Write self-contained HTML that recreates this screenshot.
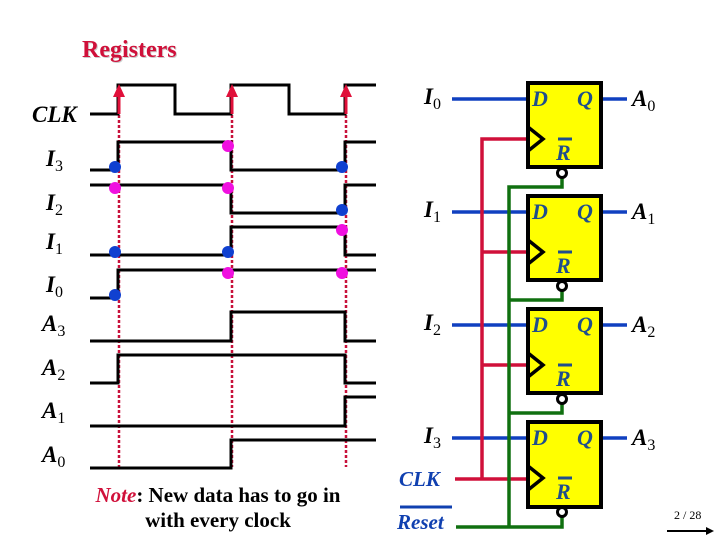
<!DOCTYPE html>
<html><head><style>body{margin:0;background:#fff}svg{display:block}</style></head><body>
<svg width="720" height="540" viewBox="0 0 720 540" xmlns="http://www.w3.org/2000/svg" font-family="Liberation Serif, serif">
<text x="83" y="58" font-size="24" font-weight="bold" fill="#999" opacity="0.5">Registers</text>
<text x="82" y="57" font-size="24" font-weight="bold" fill="#d0103a">Registers</text>
<g font-style="italic" font-size="23" fill="#000" font-weight="bold">
<text x="32" y="122">CLK</text>
<text x="46" y="166">I<tspan font-size="16" font-style="normal" font-weight="normal" dy="5">3</tspan></text>
<text x="46" y="210">I<tspan font-size="16" font-style="normal" font-weight="normal" dy="5">2</tspan></text>
<text x="46" y="249">I<tspan font-size="16" font-style="normal" font-weight="normal" dy="5">1</tspan></text>
<text x="46" y="292">I<tspan font-size="16" font-style="normal" font-weight="normal" dy="5">0</tspan></text>
<text x="42" y="331">A<tspan font-size="16" font-style="normal" font-weight="normal" dy="5">3</tspan></text>
<text x="42" y="375">A<tspan font-size="16" font-style="normal" font-weight="normal" dy="5">2</tspan></text>
<text x="42" y="418">A<tspan font-size="16" font-style="normal" font-weight="normal" dy="5">1</tspan></text>
<text x="42" y="462">A<tspan font-size="16" font-style="normal" font-weight="normal" dy="5">0</tspan></text>
</g>
<g stroke="#c8103a" stroke-width="2.5" stroke-dasharray="3,2">
<line x1="119" y1="100" x2="119" y2="467"/><line x1="232" y1="100" x2="232" y2="467"/><line x1="346" y1="100" x2="346" y2="467"/>
</g>
<g stroke="#000" stroke-width="3" fill="none">
<polyline points="90,114 118,114 118,85 175,85 175,114 231,114 231,85 289,85 289,114 345,114 345,85 376,85"/>
<polyline points="90,170 118,170 118,142 231,142 231,170 345,170 345,142 376,142"/>
<polyline points="90,185 231,185 231,213 345,213 345,185 376,185"/>
<polyline points="90,255 231,255 231,227 345,227 345,255 376,255"/>
<polyline points="90,298 118,298 118,270 376,270"/>
<polyline points="90,341 231,341 231,312 345,312 345,341 376,341"/>
<polyline points="90,383 118,383 118,355 345,355 345,383 376,383"/>
<polyline points="90,426 345,426 345,397 376,397"/>
<polyline points="90,468 231,468 231,440 376,440"/>
</g>
<g stroke="#e0103a" stroke-width="3"><line x1="119" y1="114" x2="119" y2="95"/><line x1="232" y1="114" x2="232" y2="95"/><line x1="346" y1="114" x2="346" y2="95"/></g>
<g fill="#e0103a"><polygon points="113,97 125,97 119,84"/><polygon points="226,97 238,97 232,84"/><polygon points="340,97 352,97 346,84"/></g>
<g fill="#1040d0">
<circle cx="115" cy="167" r="6"/><circle cx="342" cy="167" r="6"/><circle cx="342" cy="210" r="6"/>
<circle cx="115" cy="252" r="6"/><circle cx="228" cy="252" r="6"/><circle cx="115" cy="295" r="6"/>
</g>
<g fill="#f010e0">
<circle cx="228" cy="146" r="6"/><circle cx="115" cy="188" r="6"/><circle cx="228" cy="188" r="6"/>
<circle cx="342" cy="230" r="6"/><circle cx="228" cy="273" r="6"/><circle cx="342" cy="273" r="6"/>
</g>
<text x="218" y="502" font-size="21" font-weight="bold" text-anchor="middle" fill="#000"><tspan fill="#d0103a" font-style="italic">Note</tspan>: New data has to go in</text>
<text x="218" y="527" font-size="21" font-weight="bold" text-anchor="middle" fill="#000">with every clock</text>
<g stroke="#1040c0" stroke-width="3.5">
<line x1="452" y1="99" x2="528" y2="99"/><line x1="601" y1="99" x2="627" y2="99"/>
<line x1="452" y1="212" x2="528" y2="212"/><line x1="601" y1="212" x2="627" y2="212"/>
<line x1="452" y1="325" x2="528" y2="325"/><line x1="601" y1="325" x2="627" y2="325"/>
<line x1="452" y1="438" x2="528" y2="438"/><line x1="601" y1="438" x2="627" y2="438"/>
</g>
<g stroke="#d0103a" stroke-width="3.5" fill="none">
<polyline points="528,139 482,139 482,479"/>
<line x1="482" y1="252" x2="528" y2="252"/><line x1="482" y1="365" x2="528" y2="365"/>
<line x1="455" y1="479" x2="528" y2="479"/>
</g>
<g stroke="#107010" stroke-width="3.5" fill="none">
<polyline points="562,178 562,187 509,187 509,527"/>
<polyline points="562,291 562,300 509,300"/>
<polyline points="562,404 562,413 509,413"/>
<polyline points="456,527 562,527 562,517"/>
</g>
<g stroke="#000" stroke-width="4" fill="#ffff00">
<rect x="528" y="83" width="73" height="84"/><rect x="528" y="196" width="73" height="84"/>
<rect x="528" y="309" width="73" height="84"/><rect x="528" y="422" width="73" height="85"/>
</g>
<g stroke="#000" stroke-width="3.5" fill="none">
<polyline points="528,127 543,139 528,151"/><polyline points="528,240 543,252 528,264"/>
<polyline points="528,353 543,365 528,377"/><polyline points="528,466 543,478 528,490"/>
</g>
<g stroke="#000" stroke-width="3" fill="#fff">
<circle cx="562" cy="173" r="4.5"/><circle cx="562" cy="286" r="4.5"/><circle cx="562" cy="399" r="4.5"/><circle cx="562" cy="512" r="4.5"/>
</g>
<g font-style="italic" font-weight="bold" font-size="22" fill="#1f4e8c">
<text x="532" y="106">D</text><text x="577" y="106">Q</text><text x="556" y="160">R</text>
<text x="532" y="219">D</text><text x="577" y="219">Q</text><text x="556" y="273">R</text>
<text x="532" y="332">D</text><text x="577" y="332">Q</text><text x="556" y="386">R</text>
<text x="532" y="445">D</text><text x="577" y="445">Q</text><text x="556" y="499">R</text>
</g>
<g stroke="#1f4e8c" stroke-width="3"><line x1="558" y1="139" x2="572" y2="139"/><line x1="558" y1="252" x2="572" y2="252"/><line x1="558" y1="365" x2="572" y2="365"/><line x1="558" y1="478" x2="572" y2="478"/></g>
<g font-style="italic" font-weight="bold" font-size="23" fill="#000">
<text x="424" y="104">I<tspan font-size="16" font-style="normal" font-weight="normal" dy="5">0</tspan></text>
<text x="424" y="217">I<tspan font-size="16" font-style="normal" font-weight="normal" dy="5">1</tspan></text>
<text x="424" y="330">I<tspan font-size="16" font-style="normal" font-weight="normal" dy="5">2</tspan></text>
<text x="424" y="443">I<tspan font-size="16" font-style="normal" font-weight="normal" dy="5">3</tspan></text>
<text x="632" y="106">A<tspan font-size="16" font-style="normal" font-weight="normal" dy="5">0</tspan></text>
<text x="632" y="219">A<tspan font-size="16" font-style="normal" font-weight="normal" dy="5">1</tspan></text>
<text x="632" y="332">A<tspan font-size="16" font-style="normal" font-weight="normal" dy="5">2</tspan></text>
<text x="632" y="445">A<tspan font-size="16" font-style="normal" font-weight="normal" dy="5">3</tspan></text>
</g>
<g font-style="italic" font-weight="bold" font-size="21" fill="#1040b0">
<text x="399" y="486">CLK</text>
<text x="397" y="529">Reset</text>
</g>
<line x1="400" y1="507" x2="452" y2="507" stroke="#1040b0" stroke-width="3"/>
<text x="674" y="519" font-size="12" fill="#000">2 / 28</text>
<line x1="667" y1="531" x2="708" y2="531" stroke="#000" stroke-width="2"/>
<polygon points="714,531 706,527 706,535" fill="#000"/>
</svg>
</body></html>
